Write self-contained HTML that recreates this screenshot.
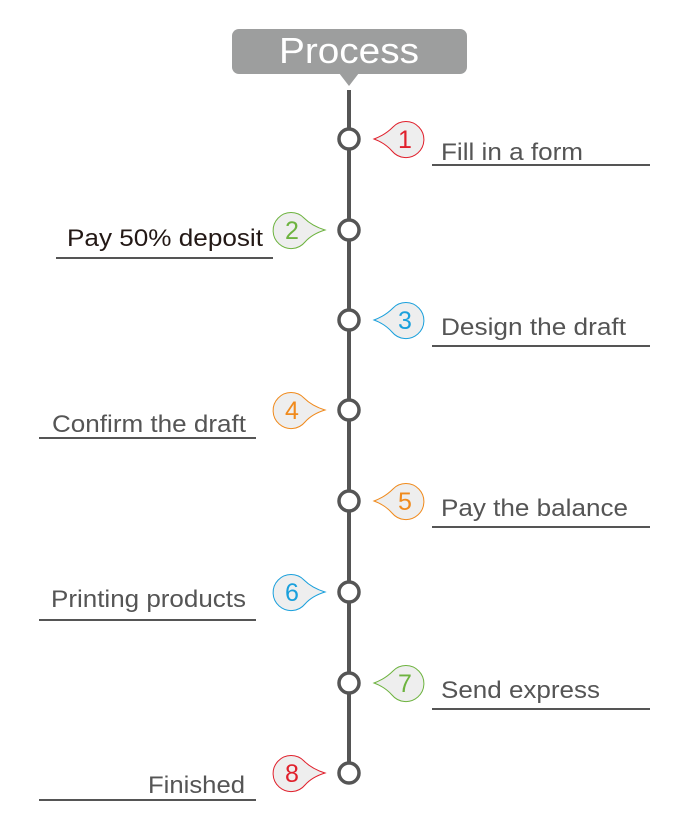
<!DOCTYPE html>
<html><head><style>html,body{margin:0;padding:0;background:#fff}svg{display:block}</style></head><body>
<svg width="689" height="835" viewBox="0 0 689 835" xmlns="http://www.w3.org/2000/svg" font-family="Liberation Sans, Arial, sans-serif">
<rect x="232" y="29" width="235" height="45" rx="7" fill="#9d9e9e"/>
<polygon points="339,73 359,73 349,86" fill="#9d9e9e"/>
<text x="279" y="63" font-size="36" fill="#fff" textLength="140" lengthAdjust="spacingAndGlyphs">Process</text>
<line x1="349" y1="90" x2="349" y2="773" stroke="#555" stroke-width="4"/>
<g fill="#fff" stroke="#555" stroke-width="3.5">
<circle cx="349" cy="139" r="10"/><circle cx="349" cy="230" r="10"/><circle cx="349" cy="320" r="10"/><circle cx="349" cy="410" r="10"/>
<circle cx="349" cy="501" r="10"/><circle cx="349" cy="592" r="10"/><circle cx="349" cy="683" r="10"/><circle cx="349" cy="773" r="10"/>
</g>
<g font-size="25" text-anchor="middle">
<g transform="translate(405,139)"><path d="M-12,-12 A18,18 0 1 1 -13,12 Q-20,4 -31,0 Q-20,-4 -12,-12Z" fill="#eee" stroke="#e0202c"/><text y="9" fill="#e0202c">1</text></g>
<g transform="translate(405,320)"><path d="M-12,-12 A18,18 0 1 1 -13,12 Q-20,4 -31,0 Q-20,-4 -12,-12Z" fill="#eee" stroke="#1aa0dc"/><text y="9" fill="#1aa0dc">3</text></g>
<g transform="translate(405,501)"><path d="M-12,-12 A18,18 0 1 1 -13,12 Q-20,4 -31,0 Q-20,-4 -12,-12Z" fill="#eee" stroke="#f08a1c"/><text y="9" fill="#f08a1c">5</text></g>
<g transform="translate(405,683)"><path d="M-12,-12 A18,18 0 1 1 -13,12 Q-20,4 -31,0 Q-20,-4 -12,-12Z" fill="#eee" stroke="#6db33f"/><text y="9" fill="#6db33f">7</text></g>
<g transform="translate(292,230)"><path d="M12,-12 A18,18 0 1 0 13,12 Q20,4 33,0 Q20,-4 12,-12Z" fill="#eee" stroke="#6db33f"/><text y="9" fill="#6db33f">2</text></g>
<g transform="translate(292,410)"><path d="M12,-12 A18,18 0 1 0 13,12 Q20,4 33,0 Q20,-4 12,-12Z" fill="#eee" stroke="#f08a1c"/><text y="9" fill="#f08a1c">4</text></g>
<g transform="translate(292,592)"><path d="M12,-12 A18,18 0 1 0 13,12 Q20,4 33,0 Q20,-4 12,-12Z" fill="#eee" stroke="#1aa0dc"/><text y="9" fill="#1aa0dc">6</text></g>
<g transform="translate(292,773)"><path d="M12,-12 A18,18 0 1 0 13,12 Q20,4 33,0 Q20,-4 12,-12Z" fill="#eee" stroke="#e0202c"/><text y="9" fill="#e0202c">8</text></g>
</g>
<g stroke="#555" stroke-width="2">
<line x1="432" y1="165" x2="650" y2="165"/><line x1="432" y1="346" x2="650" y2="346"/><line x1="432" y1="527" x2="650" y2="527"/><line x1="432" y1="709" x2="650" y2="709"/>
<line x1="56" y1="258" x2="273" y2="258"/><line x1="39" y1="438" x2="256" y2="438"/><line x1="39" y1="620" x2="256" y2="620"/><line x1="39" y1="800" x2="256" y2="800"/>
</g>
<g font-size="24" fill="#555" lengthAdjust="spacingAndGlyphs">
<text x="441" y="160" textLength="142" lengthAdjust="spacingAndGlyphs">Fill in a form</text>
<text x="441" y="335" textLength="185" lengthAdjust="spacingAndGlyphs">Design the draft</text>
<text x="441" y="516" textLength="187" lengthAdjust="spacingAndGlyphs">Pay the balance</text>
<text x="441" y="698" textLength="159" lengthAdjust="spacingAndGlyphs">Send express</text>
<text x="67" y="246" textLength="196" lengthAdjust="spacingAndGlyphs" fill="#231815">Pay 50% deposit</text>
<text x="52" y="432" textLength="194" lengthAdjust="spacingAndGlyphs">Confirm the draft</text>
<text x="51" y="607" textLength="195" lengthAdjust="spacingAndGlyphs">Printing products</text>
<text x="148" y="793" textLength="97" lengthAdjust="spacingAndGlyphs">Finished</text>
</g>
</svg>
</body></html>
